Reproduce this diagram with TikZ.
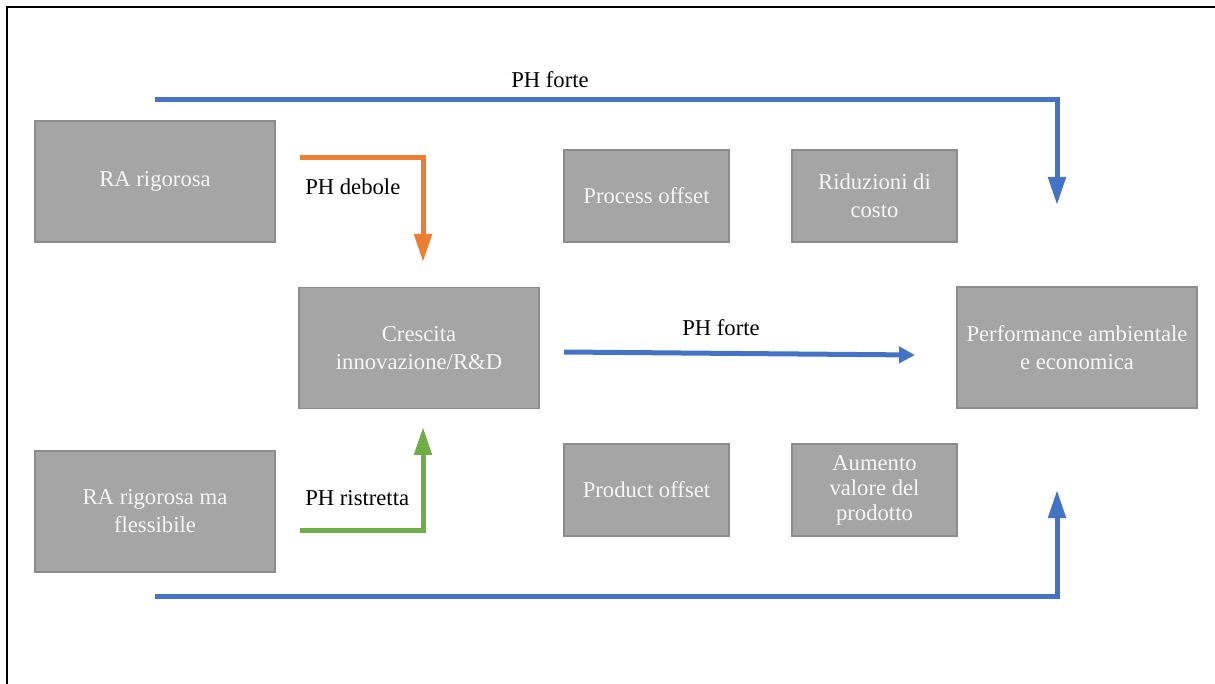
\documentclass[tikz,border=0pt]{standalone}
\usepackage{fontspec}
\setmainfont{Liberation Serif}
\usetikzlibrary{arrows.meta}
\definecolor{boxfill}{HTML}{A5A5A5}
\definecolor{boxline}{HTML}{8C8C8C}
\definecolor{boxtext}{HTML}{F7F7F7}
\definecolor{phblue}{HTML}{4472C4}
\definecolor{phorange}{HTML}{ED7D31}
\definecolor{phgreen}{HTML}{70AD47}
\tikzset{
  bigbox/.style={draw=boxline, line width=0.9pt, fill=boxfill, text=boxtext,
    minimum width=180pt, minimum height=90.75pt, inner sep=0pt,
    align=center, font=\fontsize{17pt}{21pt}\selectfont},
  smallbox/.style={bigbox, minimum width=123.75pt, minimum height=69pt},
  lbl/.style={text=black, inner sep=0pt, font=\fontsize{17pt}{21pt}\selectfont},
  conn/.style={line width=3.75pt},
  bigtip/.style={-{Triangle[length=21pt,width=12.75pt]}},
  smalltip/.style={-{Triangle[length=12pt,width=12pt]}},
}
\begin{document}
\begin{tikzpicture}[x=0.75pt,y=-0.75pt]
\useasboundingbox (0,0) rectangle (1215,684);
% frame
\draw[line width=2pt, black] (7,684) -- (7,7) -- (1215,7);

% boxes
\node[bigbox] (ra) at (155,181.5) {RA rigorosa};
\node[bigbox] (raf) at (155,511.5) {RA rigorosa ma\\flessibile};
\node[bigbox] (cr) at (419,348) {Crescita\\innovazione/R\&D};
\node[smallbox] (po) at (646.5,196) {Process offset};
\node[smallbox] (rc) at (874.5,196) {Riduzioni di\\costo};
\node[smallbox] (pr) at (646.5,490) {Product offset};
\node[smallbox, font=\fontsize{17pt}{18.75pt}\selectfont] (au) at (874.5,490) {Aumento\\valore del\\prodotto};
\node[bigbox] (perf) at (1077,347.5) {Performance ambientale\\e economica};

% connector end points
\coordinate (topS) at (155,100);
\coordinate (topE) at (1057,205);
\coordinate (botS) at (155,596);
\coordinate (botE) at (1057,490);
\coordinate (orS) at (300,158);
\coordinate (orE) at (423,262);
\coordinate (grS) at (300,530);
\coordinate (grE) at (423,427);
\coordinate (miS) at (564,352);
\coordinate (miE) at (915,355);

% connectors
\draw[conn, phblue, bigtip] (topS) -| (topE);
\draw[conn, phblue, bigtip] (botS) -| (botE);
\draw[conn, phorange, bigtip] (orS) -| (orE);
\draw[conn, phgreen, bigtip] (grS) -| (grE);
\draw[conn, phblue, smalltip] (miS) -- (miE);

% labels
\node[lbl, anchor=base] (l1) at (550,88) {PH forte};
\node[lbl, anchor=base west] (l2) at (305,195) {PH debole};
\node[lbl, anchor=base] (l3) at (721,336) {PH forte};
\node[lbl, anchor=base west] (l4) at (305,506) {PH ristretta};
\end{tikzpicture}
\end{document}
